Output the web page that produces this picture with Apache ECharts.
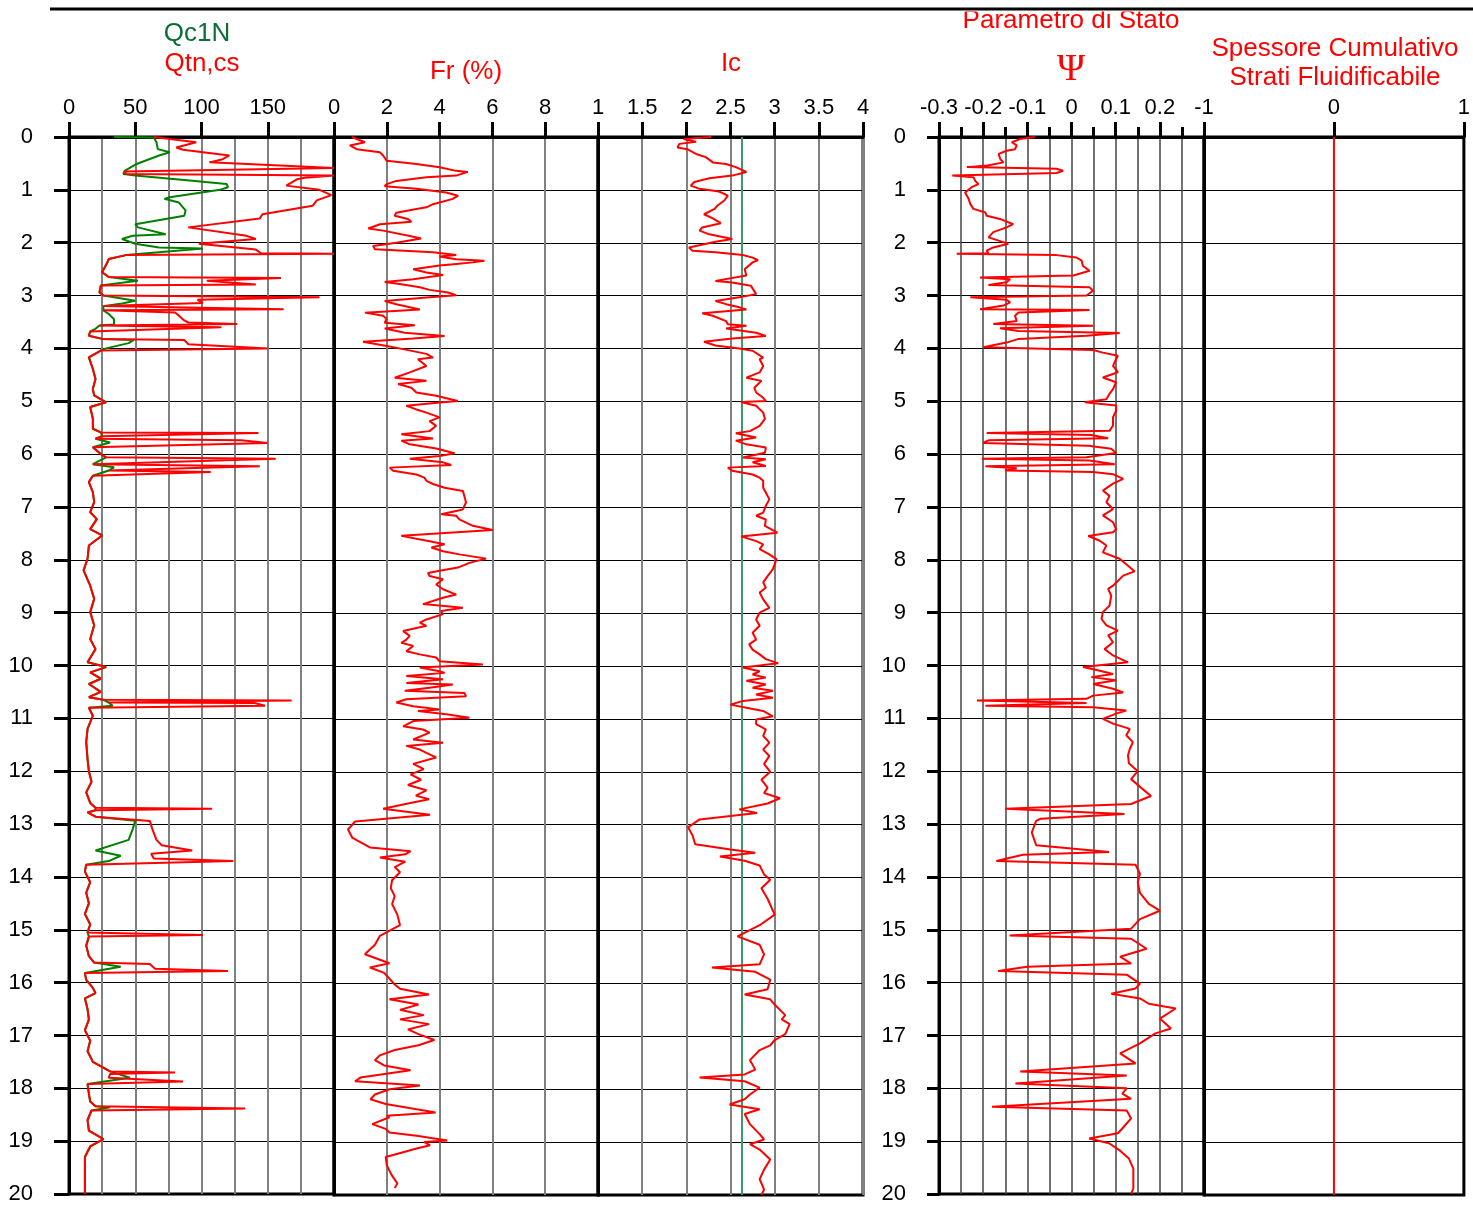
<!DOCTYPE html>
<html><head><meta charset="utf-8">
<script src="https://cdn.jsdelivr.net/npm/echarts@6/dist/echarts.min.js"></script>
<style>html,body{margin:0;padding:0;background:#fff}#c{width:1473px;height:1205px}</style>
</head><body><div id="c"></div>
<script>
// ---------- DATA: [value, depth (m)] ----------
const qtncs = [
[64,0.00],[96,0.10],[81,0.20],[86,0.24],[121,0.35],[116,0.42],[106,0.48],[200,0.585],[200,0.62],[42,0.655],[43,0.70],[200,0.73],[200,0.745],[178,0.77],[172,0.80],[164,0.92],[189,1.00],[198,1.10],[187,1.20],[184,1.30],[146,1.46],[144,1.54],[90,1.71],[134,1.87],[141,1.93],[98,2.02],[141,2.13],[145,2.20],[200,2.21],[200,2.22],[43,2.235],[30,2.31],[29,2.37],[25,2.56],[30,2.65],[160,2.67],[104,2.72],[103,2.75],[141,2.79],[24,2.81],[23,2.94],[26,3.00],[189,3.03],[97,3.08],[101,3.14],[26,3.20],[162,3.26],[26,3.28],[80,3.32],[83,3.38],[87,3.47],[90,3.51],[127,3.54],[23,3.565],[115,3.60],[16,3.68],[15,3.76],[25,3.82],[87,3.84],[90,3.92],[150,4.00],[24,4.04],[15,4.17],
[16,4.20],[18,4.39],[20,4.58],[18,4.77],[19,4.89],[28,5.02],[16,5.11],[18,5.33],[18,5.52],[24,5.59],[143,5.60],[143,5.61],[25,5.66],[20,5.71],[130,5.74],[150,5.79],[18,5.87],[24,6.00],[28,6.06],[156,6.09],[18,6.19],[144,6.23],[88,6.27],[30,6.31],[107,6.34],[18,6.41],[15,6.53],[18,6.72],[19,6.91],[16,7.10],[21,7.23],[16,7.42],[25,7.54],[15,7.73],[14,7.98],[11,8.20],[16,8.49],[19,8.74],[16,8.99],[19,9.24],[16,9.50],[20,9.69],[14,9.94],[28,10.03],[16,10.13],[24,10.25],[15,10.35],[24,10.50],[15,10.60],[26,10.65],[168,10.66],[30,10.70],[140,10.71],[148,10.76],[15,10.80],[18,10.95],[14,11.20],[13,11.45],[14,11.77],
[15,12.00],[17,12.20],[13,12.40],[16,12.60],[20,12.69],[108,12.71],[20,12.74],[14,12.78],[20,12.86],[61,12.94],[63,13.10],[66,13.30],[70,13.40],[93,13.50],[62,13.56],[64,13.65],[124,13.70],[13,13.77],[12,13.90],[16,14.10],[13,14.30],[15,14.50],[12,14.70],[16,14.90],[14,15.05],[101,15.10],[15,15.13],[13,15.30],[15,15.50],[19,15.62],[61,15.65],[65,15.74],[120,15.78],[12,15.82],[13,15.95],[18,16.10],[20,16.20],[12,16.30],[14,16.50],[15,16.70],[12,16.90],[16,17.10],[14,17.30],[18,17.50],[31,17.68],[80,17.70],[31,17.73],[30,17.80],[86,17.87],[14,17.92],[15,18.10],[16,18.25],[20,18.34],[133,18.38],[17,18.42],[14,18.60],[15,18.80],[26,18.96],[16,19.10],[12,19.30],[12,19.60],[12,20.00]
];
const qc1n = [
[34,0.00],[64,0.01],[66,0.10],[67,0.23],[76,0.29],[68,0.35],[51,0.51],[42,0.64],[41,0.70],[50,0.73],[93,0.83],[119,0.89],[120,0.95],[114,1.00],[76,1.14],[72,1.17],[83,1.24],[86,1.33],[88,1.39],[87,1.49],[73,1.55],[50,1.65],[52,1.71],[73,1.84],[48,1.87],[40,1.93],[50,2.02],[68,2.09],[101,2.11],[68,2.18],[43,2.235],[30,2.31],[29,2.37],[25,2.56],[30,2.65],[52,2.72],[40,2.76],[24,2.81],[23,2.94],[26,3.00],[50,3.10],[40,3.15],[26,3.20],[26,3.28],[30,3.35],[34,3.45],[34,3.55],[23,3.565],[20,3.63],[16,3.68],[15,3.76],[25,3.82],[49,3.84],[45,3.90],[28,4.00],[24,4.04],[15,4.17],
[16,4.20],[18,4.39],[20,4.58],[18,4.77],[19,4.89],[28,5.02],[16,5.11],[18,5.33],[18,5.52],[24,5.59],[25,5.66],[20,5.71],[31,5.78],[18,5.87],[24,6.00],[28,6.06],[18,6.19],[34,6.25],[30,6.31],[18,6.41],[15,6.53],[18,6.72],[19,6.91],[16,7.10],[21,7.23],[16,7.42],[25,7.54],[15,7.73],[14,7.98],[11,8.20],[16,8.49],[19,8.74],[16,8.99],[19,9.24],[16,9.50],[20,9.69],[14,9.94],[28,10.03],[16,10.13],[24,10.25],[15,10.35],[24,10.50],[15,10.60],[26,10.65],[30,10.70],[33,10.76],[15,10.80],[18,10.95],[14,11.20],[13,11.45],[14,11.77],
[15,12.00],[17,12.20],[13,12.40],[16,12.60],[20,12.69],[20,12.74],[14,12.78],[20,12.86],[50,12.94],[48,13.10],[45,13.30],[20,13.50],[39,13.60],[30,13.70],[13,13.77],[12,13.90],[16,14.10],[13,14.30],[15,14.50],[12,14.70],[16,14.90],[14,15.05],[15,15.13],[13,15.30],[15,15.50],[19,15.62],[39,15.70],[12,15.82],[13,15.95],[18,16.10],[20,16.20],[12,16.30],[14,16.50],[15,16.70],[12,16.90],[16,17.10],[14,17.30],[18,17.50],[31,17.68],[46,17.80],[14,17.92],[15,18.10],[16,18.25],[20,18.34],[31,18.36],[17,18.42],[14,18.60],[15,18.80],[26,18.96],[16,19.10],[12,19.30],[12,19.60],[12,20.00]
];
const fr = [
[0.67,0.00],[1.17,0.10],[0.60,0.16],[0.86,0.23],[1.74,0.29],[1.86,0.35],[2.00,0.45],[2.05,0.48],[3.12,0.51],[4.00,0.57],[4.63,0.64],[5.07,0.66],[4.63,0.73],[3.50,0.76],[2.36,0.83],[2.00,0.89],[1.92,0.93],[3.12,0.98],[4.25,1.05],[4.70,1.11],[4.50,1.17],[3.75,1.27],[3.50,1.33],[3.12,1.36],[2.36,1.43],[2.30,1.49],[2.80,1.55],[2.93,1.60],[1.74,1.65],[1.30,1.73],[1.86,1.77],[2.87,1.87],[3.30,1.92],[2.36,2.00],[1.48,2.06],[1.55,2.12],[3.75,2.18],[4.63,2.23],[4.00,2.26],[4.63,2.31],[5.70,2.34],[5.26,2.37],[4.63,2.40],[4.00,2.43],[3.00,2.50],[3.50,2.56],[4.13,2.61],[3.00,2.69],[1.92,2.74],[2.49,2.78],[3.25,2.84],[3.62,2.89],[4.32,2.94],[4.63,2.99],[3.62,3.03],[1.92,3.10],[2.36,3.16],[3.25,3.26],[1.17,3.32],[1.86,3.38],[2.00,3.44],[1.92,3.51],[3.06,3.56],[1.92,3.62],[2.68,3.70],[4.19,3.76],[3.00,3.81],[1.10,3.87],[2.00,3.95],[2.62,4.01],[3.50,4.10],[3.75,4.17],
[3.18,4.20],[3.50,4.33],[2.87,4.45],[2.30,4.55],[3.50,4.61],[2.43,4.67],[2.93,4.74],[3.12,4.83],[3.87,4.89],[4.69,4.99],[4.00,5.02],[2.74,5.08],[3.12,5.15],[3.50,5.21],[4.00,5.30],[3.62,5.37],[3.87,5.46],[3.62,5.56],[2.55,5.62],[3.75,5.70],[2.55,5.74],[2.87,5.81],[3.87,5.89],[4.57,5.98],[4.00,6.03],[2.87,6.08],[4.13,6.15],[4.44,6.20],[2.11,6.25],[2.24,6.31],[3.12,6.38],[3.43,6.44],[3.50,6.50],[3.75,6.56],[4.19,6.63],[4.88,6.69],[4.94,6.79],[5.00,6.91],[4.88,7.04],[4.06,7.13],[4.63,7.16],[4.75,7.23],[5.26,7.35],[6.01,7.43],[2.55,7.54],[3.62,7.64],[4.19,7.70],[3.69,7.76],[4.13,7.83],[4.75,7.89],[5.76,7.97],[5.13,8.05],[4.69,8.14],[4.00,8.20],[3.56,8.24],[3.62,8.30],[4.13,8.36],[3.87,8.46],[4.13,8.55],[4.63,8.65],[4.13,8.71],[3.37,8.83],[4.88,8.90],[4.06,8.96],[4.13,9.02],[3.50,9.12],[3.25,9.18],[3.50,9.24],[2.62,9.34],[2.87,9.43],[2.74,9.50],[2.55,9.56],[3.00,9.62],[2.74,9.72],[3.25,9.78],[3.87,9.84],[4.00,9.91],[5.64,9.97],[3.25,10.03],[4.00,10.10],[4.19,10.13],[2.74,10.19],[4.13,10.25],[2.74,10.32],[4.50,10.35],[3.62,10.41],[2.68,10.47],[4.94,10.51],[5.00,10.57],[2.74,10.63],[2.36,10.69],[3.00,10.76],[4.00,10.82],[3.18,10.85],[4.25,10.91],[5.13,10.98],[3.00,11.04],[2.62,11.14],[3.37,11.20],[3.62,11.26],[3.00,11.39],[4.13,11.45],[2.74,11.51],[3.25,11.58],[3.62,11.67],[3.87,11.73],
[3.00,11.85],[3.40,11.95],[2.90,12.05],[3.30,12.15],[2.80,12.25],[3.50,12.35],[3.10,12.45],[3.60,12.52],[2.80,12.60],[1.86,12.70],[3.64,12.81],[0.80,12.94],[0.53,13.09],[0.70,13.25],[1.36,13.43],[2.90,13.50],[2.70,13.56],[1.74,13.62],[2.70,13.70],[2.30,13.80],[2.50,13.90],[2.20,14.05],[2.15,14.20],[2.30,14.35],[2.20,14.50],[2.40,14.70],[2.50,14.90],[1.74,15.10],[1.55,15.27],[1.17,15.45],[2.10,15.62],[1.36,15.70],[1.90,15.80],[2.30,16.02],[2.50,16.10],[3.60,16.21],[2.10,16.30],[3.20,16.40],[2.50,16.50],[3.40,16.60],[2.50,16.68],[3.60,16.77],[2.80,16.87],[3.20,16.96],[3.80,17.07],[3.20,17.17],[2.30,17.26],[1.74,17.36],[1.55,17.45],[1.90,17.55],[2.90,17.64],[1.00,17.78],[0.80,17.85],[3.26,17.93],[2.10,18.00],[1.55,18.10],[1.38,18.19],[1.96,18.28],[3.85,18.44],[2.00,18.50],[2.10,18.53],[1.45,18.66],[1.96,18.75],[2.10,18.82],[3.13,18.88],[4.29,18.97],[3.42,19.00],[3.64,19.06],[3.13,19.12],[2.55,19.20],[1.96,19.28],[2.00,19.44],[2.18,19.62],[2.40,19.78],[2.30,19.87]
];
const ic = [
[2.28,0.00],[1.97,0.04],[2.11,0.09],[1.92,0.13],[1.90,0.20],[2.01,0.23],[2.11,0.32],[2.22,0.38],[2.30,0.48],[2.45,0.51],[2.56,0.57],[2.68,0.66],[2.52,0.73],[2.26,0.78],[2.09,0.85],[2.05,0.92],[2.15,0.98],[2.37,1.03],[2.47,1.11],[2.43,1.20],[2.35,1.30],[2.32,1.36],[2.20,1.46],[2.30,1.54],[2.39,1.63],[2.18,1.71],[2.15,1.77],[2.26,1.84],[2.52,1.93],[2.33,1.98],[2.03,2.09],[2.07,2.15],[2.33,2.18],[2.64,2.23],[2.75,2.28],[2.81,2.33],[2.75,2.37],[2.66,2.50],[2.68,2.62],[2.33,2.72],[2.52,2.75],[2.73,2.81],[2.79,2.97],[2.60,3.03],[2.33,3.10],[2.45,3.16],[2.60,3.22],[2.68,3.26],[2.18,3.33],[2.30,3.38],[2.45,3.48],[2.47,3.54],[2.68,3.57],[2.45,3.62],[2.79,3.70],[2.90,3.76],[2.52,3.81],[2.20,3.87],[2.33,3.94],[2.60,4.00],[2.75,4.04],[2.87,4.17],
[2.83,4.20],[2.87,4.33],[2.83,4.45],[2.68,4.55],[2.85,4.61],[2.77,4.74],[2.79,4.83],[2.87,4.93],[2.90,4.99],[2.62,5.01],[2.79,5.08],[2.87,5.21],[2.89,5.33],[2.83,5.46],[2.72,5.56],[2.56,5.60],[2.79,5.68],[2.56,5.74],[2.68,5.81],[2.90,5.87],[2.89,5.97],[2.64,6.06],[2.90,6.09],[2.75,6.15],[2.90,6.22],[2.47,6.25],[2.52,6.31],[2.75,6.38],[2.83,6.44],[2.87,6.50],[2.87,6.63],[2.90,6.72],[2.94,6.85],[2.90,6.97],[2.87,7.10],[2.79,7.16],[2.90,7.23],[2.89,7.35],[3.03,7.48],[2.62,7.55],[2.79,7.64],[2.87,7.70],[2.83,7.79],[2.94,7.89],[3.02,7.98],[3.00,8.08],[2.98,8.17],[2.92,8.30],[2.87,8.42],[2.90,8.52],[2.83,8.61],[2.87,8.74],[2.94,8.90],[2.83,8.99],[2.79,9.12],[2.83,9.24],[2.75,9.37],[2.79,9.50],[2.71,9.59],[2.75,9.69],[2.83,9.78],[2.90,9.87],[3.04,9.95],[2.64,10.03],[2.83,10.10],[2.75,10.16],[2.90,10.22],[2.68,10.28],[2.90,10.35],[2.75,10.41],[2.98,10.47],[2.79,10.54],[2.98,10.60],[2.64,10.66],[2.50,10.73],[2.68,10.79],[2.87,10.85],[2.98,10.95],[2.79,11.01],[2.79,11.10],[2.90,11.20],[2.87,11.32],[2.94,11.45],[2.87,11.58],[2.94,11.70],
[2.88,11.85],[2.95,12.00],[2.85,12.15],[2.92,12.30],[2.88,12.40],[3.06,12.50],[2.92,12.60],[2.60,12.71],[2.80,12.78],[2.15,12.90],[2.02,13.05],[2.07,13.20],[2.10,13.37],[2.50,13.47],[2.78,13.53],[2.38,13.60],[2.66,13.68],[2.83,13.77],[2.88,13.94],[2.95,14.04],[2.85,14.20],[2.92,14.40],[3.00,14.70],[2.83,14.90],[2.58,15.11],[2.83,15.27],[2.88,15.45],[2.83,15.64],[2.29,15.70],[2.78,15.78],[2.95,15.93],[2.92,16.11],[2.66,16.21],[2.95,16.30],[3.00,16.40],[3.06,16.50],[3.12,16.60],[3.08,16.68],[3.17,16.77],[3.12,16.96],[3.00,17.07],[2.95,17.17],[2.83,17.26],[2.72,17.45],[2.78,17.63],[2.66,17.72],[2.15,17.78],[2.66,17.85],[2.83,17.97],[2.72,18.10],[2.66,18.19],[2.49,18.29],[2.83,18.38],[2.66,18.47],[2.72,18.66],[2.83,18.85],[2.88,18.95],[2.72,19.04],[2.83,19.14],[2.95,19.33],[2.88,19.52],[2.83,19.70],[2.88,19.90],[2.85,20.00]
];
const icLimit = 2.63;
const psi = [
[-0.083,0.00],[-0.117,0.04],[-0.135,0.10],[-0.124,0.16],[-0.128,0.23],[-0.147,0.26],[-0.165,0.32],[-0.161,0.42],[-0.154,0.48],[-0.190,0.54],[-0.237,0.57],[-0.034,0.60],[-0.019,0.64],[-0.034,0.68],[-0.270,0.73],[-0.222,0.76],[-0.218,0.83],[-0.211,0.89],[-0.226,0.95],[-0.241,1.05],[-0.233,1.17],[-0.229,1.27],[-0.222,1.36],[-0.195,1.43],[-0.192,1.49],[-0.162,1.55],[-0.132,1.65],[-0.147,1.71],[-0.177,1.80],[-0.188,1.90],[-0.165,1.96],[-0.143,2.02],[-0.177,2.09],[-0.192,2.15],[-0.188,2.20],[-0.260,2.21],[-0.034,2.235],[0.011,2.28],[0.023,2.34],[0.026,2.44],[0.041,2.53],[0.004,2.62],[-0.207,2.66],[-0.139,2.69],[-0.147,2.75],[-0.188,2.80],[0.041,2.845],[0.049,2.91],[0.034,3.00],[-0.229,3.03],[-0.147,3.08],[-0.139,3.13],[-0.154,3.19],[-0.207,3.26],[0.041,3.275],[-0.120,3.32],[-0.128,3.38],[-0.124,3.48],[-0.177,3.54],[0.049,3.57],[-0.162,3.62],[-0.120,3.67],[0.109,3.71],[0.034,3.76],[-0.120,3.82],[-0.147,3.89],[-0.200,3.98],[0.049,4.03],[0.071,4.08],[0.105,4.14],
[0.101,4.20],[0.094,4.33],[0.105,4.45],[0.071,4.55],[0.101,4.64],[0.094,4.77],[0.086,4.86],[0.079,4.96],[0.030,5.02],[0.101,5.08],[0.101,5.18],[0.094,5.30],[0.094,5.46],[0.086,5.56],[-0.192,5.60],[0.045,5.64],[0.083,5.70],[-0.188,5.74],[-0.200,5.79],[0.038,5.84],[0.090,5.90],[0.101,5.98],[0.034,6.06],[-0.203,6.09],[0.041,6.12],[0.098,6.19],[-0.195,6.23],[-0.124,6.27],[-0.150,6.31],[0.049,6.34],[0.094,6.38],[0.117,6.47],[0.094,6.56],[0.071,6.69],[0.086,6.79],[0.079,6.91],[0.094,7.04],[0.071,7.16],[0.094,7.29],[0.101,7.42],[0.094,7.48],[0.038,7.55],[0.064,7.64],[0.079,7.73],[0.071,7.86],[0.109,7.98],[0.132,8.14],[0.143,8.22],[0.117,8.30],[0.094,8.49],[0.083,8.55],[0.090,8.68],[0.086,8.87],[0.071,8.99],[0.068,9.12],[0.079,9.24],[0.105,9.34],[0.083,9.43],[0.094,9.56],[0.075,9.69],[0.094,9.81],[0.128,9.94],[0.026,10.03],[0.064,10.10],[0.094,10.16],[0.045,10.22],[0.101,10.28],[0.049,10.35],[0.094,10.44],[0.117,10.51],[0.049,10.57],[0.034,10.63],[-0.214,10.66],[0.034,10.71],[-0.195,10.76],[0.049,10.79],[0.124,10.85],[0.101,10.91],[0.071,11.01],[0.094,11.10],[0.132,11.20],[0.124,11.32],[0.139,11.45],[0.132,11.58],[0.128,11.70],
[0.130,11.85],[0.150,12.00],[0.135,12.15],[0.160,12.33],[0.180,12.47],[0.135,12.62],[-0.150,12.71],[0.120,12.81],[-0.070,12.90],[-0.080,12.94],[-0.090,13.16],[-0.080,13.40],[0.085,13.53],[-0.110,13.58],[-0.170,13.70],[0.145,13.77],[0.155,13.94],[0.150,14.10],[0.155,14.30],[0.175,14.51],[0.200,14.64],[0.155,14.80],[0.135,14.98],[-0.140,15.11],[0.135,15.17],[0.170,15.36],[0.110,15.51],[0.135,15.64],[-0.100,15.70],[-0.166,15.78],[0.125,15.85],[0.155,16.02],[0.145,16.11],[0.090,16.21],[0.155,16.30],[0.175,16.40],[0.236,16.49],[0.200,16.68],[0.225,16.87],[0.190,16.96],[0.155,17.15],[0.110,17.34],[0.145,17.53],[-0.116,17.68],[0.125,17.76],[-0.127,17.91],[0.125,18.00],[0.115,18.10],[0.135,18.20],[-0.180,18.35],[0.125,18.42],[0.135,18.57],[0.115,18.76],[0.105,18.85],[0.040,18.95],[0.085,19.04],[0.110,19.18],[0.130,19.33],[0.140,19.52],[0.140,19.70],[0.140,19.90],[0.135,20.00]
];
const spessore = [[0,0],[0,20]];

// ---------- CHART ----------
const FONT = '"Liberation Sans", Arial, sans-serif';
const TOP = 137, H = 1058;
const panels = [
  {left:69, width:265, min:0, max:200, interval:50, minor:2, hideMax:true},
  {left:334, width:264, min:0, max:10, interval:2, minor:0, hideMax:true},
  {left:598, width:265, min:1, max:4, interval:0.5, minor:0, hideMax:false},
  {left:939, width:265, min:-0.3, max:0.3, interval:0.1, minor:2, hideMax:true, minorTick:true},
  {left:1204, width:264, min:-1, max:1, interval:1, minor:0, hideMax:false, noSplit:true}
];
const grid = panels.map(p => ({left:p.left, top:TOP, width:p.width, height:H, show:true, borderColor:'#000', borderWidth:3, containLabel:false}));
const xAxis = panels.map((p,i) => ({
  type:'value', gridIndex:i, position:'top', min:p.min, max:p.max, interval:p.interval,
  axisLine:{show:true, onZero:false, lineStyle:{color:'#000', width:3}},
  axisTick:{show:true, length:15, lineStyle:{color:'#000', width:3}},
  minorTick:{show:!!p.minorTick, splitNumber:2, length:10, lineStyle:{color:'#000', width:3}},
  minorSplitLine:{show:p.minor>0, lineStyle:{color:i===3?'#444':'#808080', width:i===3?1.5:2}},
  splitLine:{show:!p.noSplit, lineStyle:{color:i===3?'#444':'#808080', width:i===3?1.5:2}},
  axisLabel:{show:true, color:'#000', fontSize:22, fontFamily:FONT, margin:18, showMinLabel:true, showMaxLabel:true,
    formatter: v => (p.hideMax && Math.abs(v-p.max)<1e-9) ? '' : String(Math.round(v*10)/10)}
}));
xAxis[0].minorTick = {show:false, splitNumber:2};
const yAxis = panels.map((p,i) => ({
  type:'value', gridIndex:i, inverse:true, min:0, max:20, interval:1,
  axisLine:{show:true, onZero:false, lineStyle:{color:'#000', width:3}},
  axisTick:{show:(i===0||i===3), length:i===0?15:12, lineStyle:{color:'#000', width:3}},
  axisLabel:{show:(i===0||i===3), color:'#000', fontSize:22, fontFamily:FONT, margin:i===0?36:33},
  splitLine:{show:true, lineStyle:{color:'#000', width:1}}
}));
const ln = (idx, data, color, z, w) => ({type:'line', xAxisIndex:idx, yAxisIndex:idx, data, showSymbol:false, symbol:'none',
  lineStyle:{color, width:w||2}, itemStyle:{color}, z, animation:false, silent:true});
const series = [
  ln(0, qc1n, '#008000', 3),
  ln(0, qtncs, '#ff0000', 4),
  ln(1, fr, '#ff0000', 4),
  ln(2, [[icLimit,0],[icLimit,20]], '#3c9a6a', 3),
  ln(2, ic, '#ff0000', 4),
  ln(3, psi, '#ff0000', 4),
  ln(4, spessore, '#ff0000', 4)
];
const txt = (x,y,text,color,size,font) => ({type:'text', x, y, z:10, style:{text, fill:color, font:size+'px '+(font||FONT), align:'center', verticalAlign:'middle'}});
const graphic = [
  txt(197,34,'Qc1N','#0b6e35',26),
  txt(202,64,'Qtn,cs','#ff0000',26),
  txt(466,72,'Fr (%)','#ff0000',26),
  txt(731,64,'Ic','#ff0000',26),
  txt(1071,21,'Parametro di Stato','#ff0000',26),
  txt(1071,70,'Ψ','#ff0000',38,'"Liberation Serif", serif'),
  txt(1335,49,'Spessore Cumulativo','#ff0000',26),
  txt(1335,78,'Strati Fluidificabile','#ff0000',26),
  {type:'rect', z:20, shape:{x:940, y:0, width:260, height:11.5}, style:{fill:'#fff'}},
  {type:'line', z:21, shape:{x1:50, y1:9, x2:1473, y2:9}, style:{stroke:'#000', lineWidth:3}}
];
const chart = echarts.init(document.getElementById('c'), null, {renderer:'canvas'});
chart.setOption({animation:false, backgroundColor:'#fff', grid, xAxis, yAxis, series, graphic});
</script>
</body></html>
